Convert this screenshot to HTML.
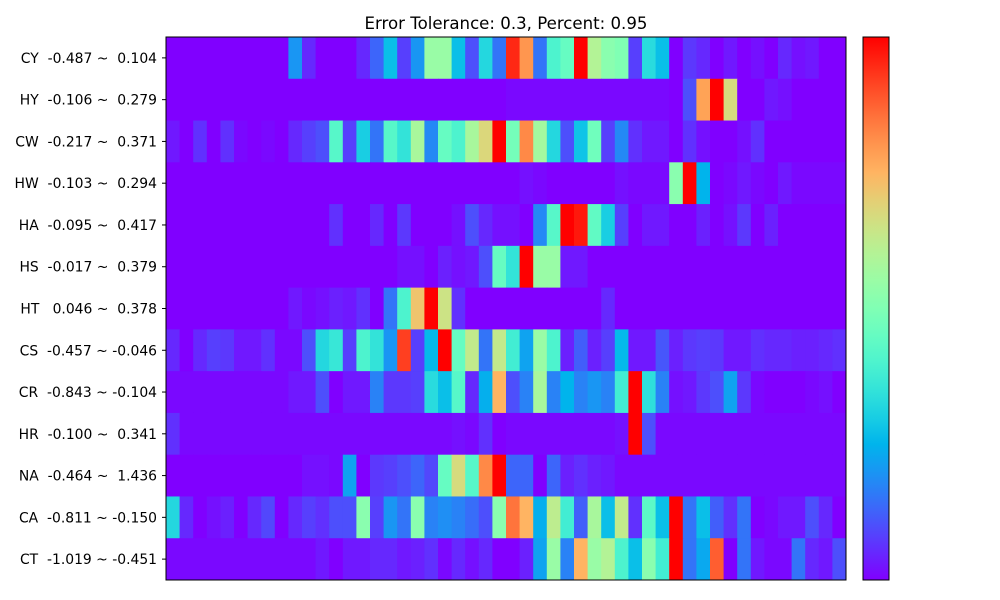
<!DOCTYPE html>
<html><head><meta charset="utf-8"><style>
body{margin:0;background:#fff;width:1000px;height:600px;overflow:hidden}
svg{display:block}
text{font-family:"DejaVu Sans","Liberation Sans",sans-serif;}
</style></head><body>
<svg id="chart" width="1000" height="600">
<text x="506" y="29" text-anchor="middle" font-size="16.6">Error Tolerance: 0.3, Percent: 0.95</text>
<g id="cells"></g>
<g id="ylabels"></g>
<rect x="166" y="37" width="680" height="543" fill="none" stroke="#000" stroke-width="1"/>
<defs><linearGradient id="cb" x1="0" y1="1" x2="0" y2="0"></linearGradient></defs>
<rect x="863" y="37" width="26" height="543" fill="url(#cb)" stroke="#000" stroke-width="1"/>
</svg>
<script>
const rowLabels=["CY  -0.487 ~  0.104","HY  -0.106 ~  0.279","CW  -0.217 ~  0.371","HW  -0.103 ~  0.294","HA  -0.095 ~  0.417","HS  -0.017 ~  0.379","HT   0.046 ~  0.378","CS  -0.457 ~ -0.046","CR  -0.843 ~ -0.104","HR  -0.100 ~  0.341","NA  -0.464 ~  1.436","CA  -0.811 ~ -0.150","CT  -1.019 ~ -0.451"];
const rowCY=[0,0,0,0,0,0,0,0,0,.2,.05,0,0,0,.05,.13,.27,.08,.2,.55,.55,.27,.1,.32,.15,.95,.8,.15,.4,.45,1,.6,.52,.5,.08,.33,.27,0,.07,.05,0,.03,0,.02,0,.05,.02,.03,0,0];
const rowHY=[0,0,0,0,0,0,0,0,0,0,0,0,0,0,0,0,0,0,0,0,0,0,0,0,0,.01,.01,.01,.01,.01,.01,.01,.01,.01,.01,.01,.01,0,.1,.78,1,.67,0,0,.03,.02,0,0,0,0];
const rowCW=[.03,0,.06,0,.06,.01,0,.01,0,.05,.08,.1,.42,.08,.3,.15,.42,.35,.58,.18,.45,.4,.58,.68,1,.48,.82,.57,.32,.1,.28,.47,.08,.18,.06,.03,.03,0,.06,.02,0,0,.02,.06,0,0,0,0,0,0];
const rowHW=[0,0,0,0,0,0,0,0,0,0,0,0,0,0,0,0,0,0,0,0,0,0,0,0,0,0,.02,.01,0,0,0,0,0,.02,.01,.01,.01,.52,1,.25,0,.01,.03,.01,0,.03,.01,.01,.01,.01];
const rowHA=[0,0,0,0,0,0,0,0,0,0,0,0,.06,0,0,.05,0,.07,0,0,0,.02,.1,.05,.02,.02,0,.18,.42,1,.97,.44,.3,.08,0,.03,.03,0,0,.04,0,.02,.07,0,.04,0,0,0,0,0];
const rowHS=[0,0,0,0,0,0,0,0,0,0,0,0,0,0,0,0,0,.02,.02,0,.04,.02,.03,.1,.45,.35,1,.55,.55,.03,.03,0,0,0,0,0,0,0,0,0,0,0,0,0,0,0,0,0,0,0];
const rowHT=[0,0,0,0,0,0,0,0,0,.03,.01,.02,.04,.03,.06,0,.15,.4,.72,1,.65,.06,0,0,0,0,0,0,0,0,0,0,.05,0,0,0,0,0,0,0,0,0,0,0,0,0,0,0,0,0];
const rowCS=[.05,0,.05,.08,.07,.03,.03,.06,.01,.01,.1,.32,.36,.08,.4,.35,.2,.92,.08,.26,1,.45,.63,.15,.63,.38,.22,.55,.4,.04,.12,.04,.08,.26,.03,.03,.11,.04,.07,.08,.07,.03,.03,.06,.05,.05,.04,.04,.05,.06];
const rowCR=[.01,.01,.01,.01,.01,.01,.01,.01,.01,.03,.03,.1,0,.03,.03,.17,.07,.07,.08,.33,.27,.42,.05,.24,.75,.1,.17,.58,.17,.25,.17,.2,.17,.38,1,.34,.17,.02,.03,.07,.1,.22,.07,.01,0,0,0,.01,.02,0];
const rowHR=[.06,.01,.01,.01,.01,.01,.01,.01,.01,.01,.01,.01,.01,.01,.01,.01,.01,.01,.01,.01,.01,.02,.01,.06,0,.01,.01,.01,.01,.01,.01,.01,.01,.02,1,.1,.01,.01,.01,.01,.01,.01,.01,.01,.01,.01,.01,.01,.01,.01];
const rowNA=[0,0,0,0,0,0,0,0,0,0,.02,.02,.01,.22,0,.07,.08,.1,.13,.09,.45,.67,.42,.82,1,.13,.13,0,.13,.04,.06,.04,.03,.01,.01,.01,.01,.01,.01,.01,.01,.01,.01,.01,.01,.01,.01,.01,.01,.01];
const rowCA=[.32,.05,0,.02,.04,0,.05,.09,0,.05,.08,.06,.1,.1,.52,.08,.2,.15,.52,.17,.19,.17,.14,.1,.52,.85,.75,.24,.62,.38,.12,.58,.27,.63,.06,.43,.27,1,.15,.27,.12,.06,.15,0,.01,.03,.03,.1,.05,0];
const rowCT=[.01,.01,.01,.01,.01,.01,.01,.01,.01,.01,.01,.03,0,.03,.03,.05,.05,.03,.04,.06,.01,.05,.02,.05,0,0,.04,.22,.55,.17,.75,.55,.6,.4,.27,.52,.38,1,.15,.23,.88,0,.15,.03,.01,.01,.15,.05,.03,.1];
const values=[rowCY,rowHY,rowCW,rowHW,rowHA,rowHS,rowHT,rowCS,rowCR,rowHR,rowNA,rowCA,rowCT];

const X0=166,Y0=37,W=680,H=543;
const nCols=values[0].length,nRows=values.length;
const xScale=i=>X0+i*W/nCols;
const yScale=j=>Y0+j*H/nRows;
function rainbow(v){
  v=Math.max(0,Math.min(1,v));
  const r=Math.min(1,Math.abs(2*v-0.5)),g=Math.sin(Math.PI*v),b=Math.cos(Math.PI*v/2);
  return `rgb(${Math.round(r*255)},${Math.round(g*255)},${Math.round(Math.max(0,b)*255)})`;
}
const NS="http://www.w3.org/2000/svg";
const cells=document.getElementById('cells');
values.forEach((row,j)=>{
  row.forEach((v,i)=>{
    const r=document.createElementNS(NS,'rect');
    r.setAttribute('x',xScale(i));
    r.setAttribute('y',yScale(j));
    r.setAttribute('width',W/nCols+0.5);
    r.setAttribute('height',H/nRows+0.5);
    r.setAttribute('fill',rainbow(v));
    
    
    cells.appendChild(r);
  });
});
const yl=document.getElementById('ylabels');
rowLabels.forEach((lab,j)=>{
  const cy=yScale(j)+H/nRows/2;
  const t=document.createElementNS(NS,'text');
  t.setAttribute('x',157);
  t.setAttribute('y',cy+5);
  t.setAttribute('text-anchor','end');
  t.setAttribute('font-size','13.9');
  t.setAttribute('xml:space','preserve');
  t.style.whiteSpace='pre';
  t.textContent=lab;
  
  
  yl.appendChild(t);
  const l=document.createElementNS(NS,'line');
  l.setAttribute('x1',162);l.setAttribute('x2',166);
  l.setAttribute('y1',cy);l.setAttribute('y2',cy);
  l.setAttribute('stroke','#000');
  
  
  yl.appendChild(l);
});
const grad=document.getElementById('cb');
for(let k=0;k<=20;k++){
  const s=document.createElementNS(NS,'stop');
  s.setAttribute('offset',k/20);
  s.setAttribute('stop-color',rainbow(k/20));
  grad.appendChild(s);
}
</script>
</body></html>
